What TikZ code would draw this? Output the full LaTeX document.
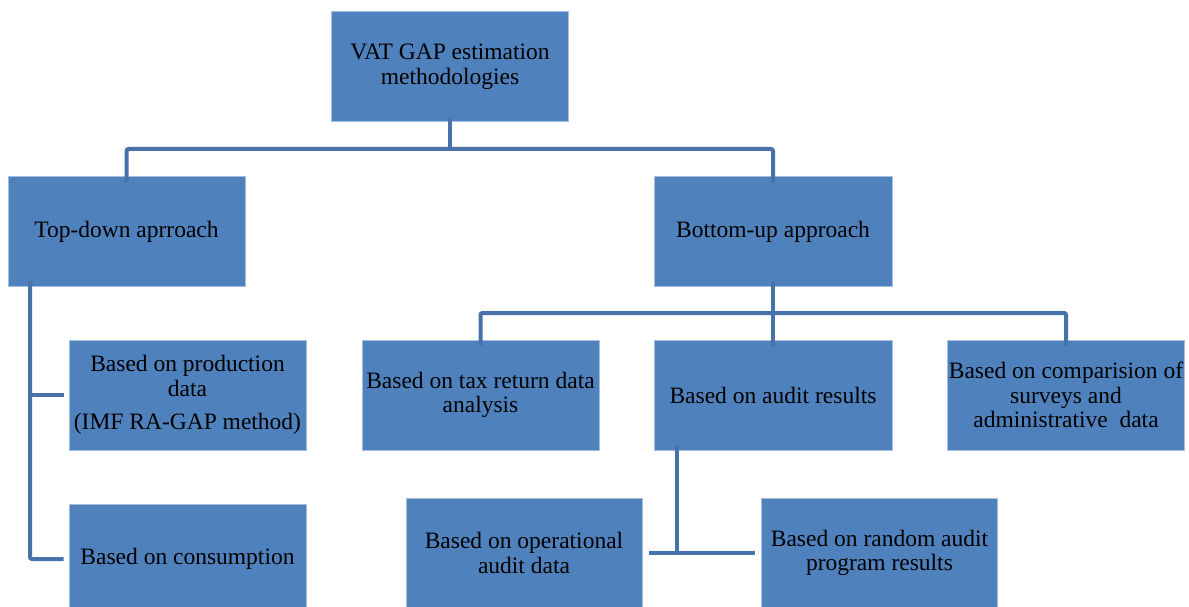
\documentclass[tikz,border=0pt]{standalone}
\usepackage{fontspec}
\setmainfont{Liberation Serif}
\definecolor{boxfill}{HTML}{4F81BD}
\definecolor{boxedge}{HTML}{A3BEE0}
\definecolor{connc}{HTML}{4873AA}
\begin{document}
\begin{tikzpicture}[x=1pt,y=-1pt,
  box/.style={rectangle,fill=boxfill,draw=boxedge,line width=1pt,inner sep=0pt,
    minimum width=237pt,minimum height=110pt,align=center,text=black,
    font=\fontsize{23.5}{24.5}\selectfont},
  conn/.style={draw=connc,line width=4pt,rounded corners=2pt}]
\useasboundingbox (0,0) rectangle (1189,607);
\fill[white] (0,0) rectangle (1189,607);
% boxes
\node[box] (top)  at (450,67)    {VAT GAP estimation\\methodologies};
\node[box,minimum height=109pt] (td) at (126.5,231.5) {Top-down aprroach};
\node[box,minimum height=109pt,minimum width=238pt] (bu) at (773,231.5) {Bottom-up approach};
\node[box] (prod) at (187.5,395) {Based on production\\data\\[9pt](IMF RA-GAP method)};
\node[box] (cons) at (187.5,559) {Based on consumption};
\node[box] (tax)  at (480.5,395) {Based on tax return data\\analysis};
\node[box,minimum width=238pt] (aud) at (773,395) {Based on audit results};
\node[box] (comp) at (1066,395) {Based on comparision of\\surveys and\\administrative\ \ data};
\node[box,minimum width=236pt] (oper) at (524,553) {Based on operational\\audit data};
\node[box,minimum width=236pt] (rand) at (879.5,553) {Based on random audit\\program results};
% helper coordinates
\coordinate (h1) at (450,149);
\coordinate (h2) at (773,313);
\coordinate (tdx) at (30,0);
\coordinate (a1) at (677,553);
% connectors
\draw[conn] ([yshift=5pt]top.south) -- (h1);
\draw[conn] ([yshift=-6pt]td.north) -- (td.north |- h1) -- (bu.north |- h1) -- ([yshift=-6pt]bu.north);
\draw[conn] ([yshift=6pt]td.south -| tdx) -- (tdx |- cons.west) -- ([xshift=-5pt]cons.west);
\draw[conn] (tdx |- prod.west) -- ([xshift=-5pt]prod.west);
\draw[conn] ([yshift=6pt]bu.south) -- ([yshift=-6pt]aud.north);
\draw[conn] ([yshift=-6pt]tax.north) -- (tax.north |- h2) -- (comp.north |- h2) -- ([yshift=-6pt]comp.north);
\draw[conn] ([yshift=5pt]aud.south -| a1) -- (a1);
\draw[conn] ([xshift=6pt]oper.east) -- ([xshift=-6pt]rand.west);
\end{tikzpicture}
\end{document}
